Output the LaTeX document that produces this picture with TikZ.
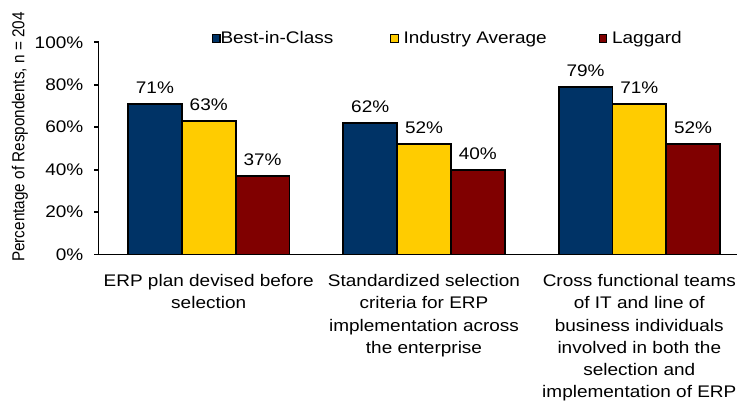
\documentclass[tikz,border=0pt]{standalone}
\usepackage{fontspec}
\setmainfont{Liberation Sans}[FakeStretch=1.13]
\newfontfamily\axisfont{Liberation Sans}
\usepackage{xcolor}
\usepackage{tikz}
\usetikzlibrary{positioning}
\definecolor{bicblue}{RGB}{0,51,102}
\definecolor{avgyellow}{RGB}{255,204,0}
\definecolor{lagred}{RGB}{128,0,0}

\begin{document}
\begin{tikzpicture}[x=1pt,y=1pt,
		every node/.style={font=\fontsize{16.8}{22.3}\selectfont,inner sep=0pt},
		bar/.style={draw=black,line width=1.8pt,minimum width=53.8pt,anchor=south,outer sep=0pt},
		key/.style={draw=black,line width=1.2pt,minimum size=7.5pt,outer sep=0pt}]
		\useasboundingbox (0,0) rectangle (738,400);
		
		\node[bar,fill=bicblue,minimum height=150.66pt] (b1) at (154.9,145.5) {};
		\node[bar,fill=avgyellow,minimum height=133.69pt] (a1) at (208.7,145.5) {};
		\node[bar,fill=lagred,minimum height=78.51pt] (l1) at (262.5,145.5) {};
		\node[bar,fill=bicblue,minimum height=131.56pt] (b2) at (370.2,145.5) {};
		\node[bar,fill=avgyellow,minimum height=110.34pt] (a2) at (424,145.5) {};
		\node[bar,fill=lagred,minimum height=84.88pt] (l2) at (477.8,145.5) {};
		\node[bar,fill=bicblue,minimum height=167.64pt] (b3) at (585.5,145.5) {};
		\node[bar,fill=avgyellow,minimum height=150.66pt] (a3) at (639.3,145.5) {};
		\node[bar,fill=lagred,minimum height=110.34pt] (l3) at (693.1,145.5) {};
		
		\node[above=10pt of b1] (vb1) {71\%};
		\node[above=10pt of a1] (va1) {63\%};
		\node[above=10pt of l1] (vl1) {37\%};
		\node[above=10pt of b2] (vb2) {62\%};
		\node[above=10pt of a2] (va2) {52\%};
		\node[above=10pt of l2] (vl2) {40\%};
		\node[above=10pt of b3] (vb3) {79\%};
		\node[above=10pt of a3] (va3) {71\%};
		\node[above=10pt of l3] (vl3) {52\%};
		
		\draw[line width=1.8pt] (98.5,357.7) -- (98.5,145.5) -- (737,145.5);
		\draw[line width=1.8pt] (94.3,145.5) -- (98.5,145.5) (94.3,187.94) -- (98.5,187.94)
			(94.3,230.38) -- (98.5,230.38) (94.3,272.82) -- (98.5,272.82)
			(94.3,315.26) -- (98.5,315.26) (94.3,357.7) -- (98.5,357.7);
		\node[anchor=east] (t0) at (83.5,145.5) {0\%};
		\node[anchor=east] (t20) at (83.5,187.94) {20\%};
		\node[anchor=east] (t40) at (83.5,230.38) {40\%};
		\node[anchor=east] (t60) at (83.5,272.82) {60\%};
		\node[anchor=east] (t80) at (83.5,315.26) {80\%};
		\node[anchor=east] (t100) at (83.5,357.7) {100\%};
		\node[font=\axisfont\fontsize{15.3}{18}\selectfont,xscale=1.13,rotate=90,anchor=base] (ylab) at (24.3,263) {Percentage of Respondents, n = 204};
		
		\node[key,fill=bicblue] (k1) at (216.2,361.5) {};
		\node[key,fill=avgyellow] (k2) at (394.5,361.5) {};
		\node[key,fill=lagred] (k3) at (602.9,361.5) {};
		\node[anchor=base west] (kt1) at (220.3,356.7) {Best-in-Class};
		\node[anchor=base west] (kt2) at (403.3,356.7) {Industry Average};
		\node[anchor=base west] (kt3) at (611.9,356.7) {Laggard};
		
		\node[anchor=north,align=center] (c1) at (208.7,125.9) {ERP plan devised before\\selection};
		\node[anchor=north,align=center] (c2) at (424,125.9) {Standardized selection\\criteria for ERP\\implementation across\\the enterprise};
		\node[anchor=north,align=center] (c3) at (639.3,125.9) {Cross functional teams\\of IT and line of\\business individuals\\involved in both the\\selection and\\implementation of ERP};
	\end{tikzpicture}
\end{document}
